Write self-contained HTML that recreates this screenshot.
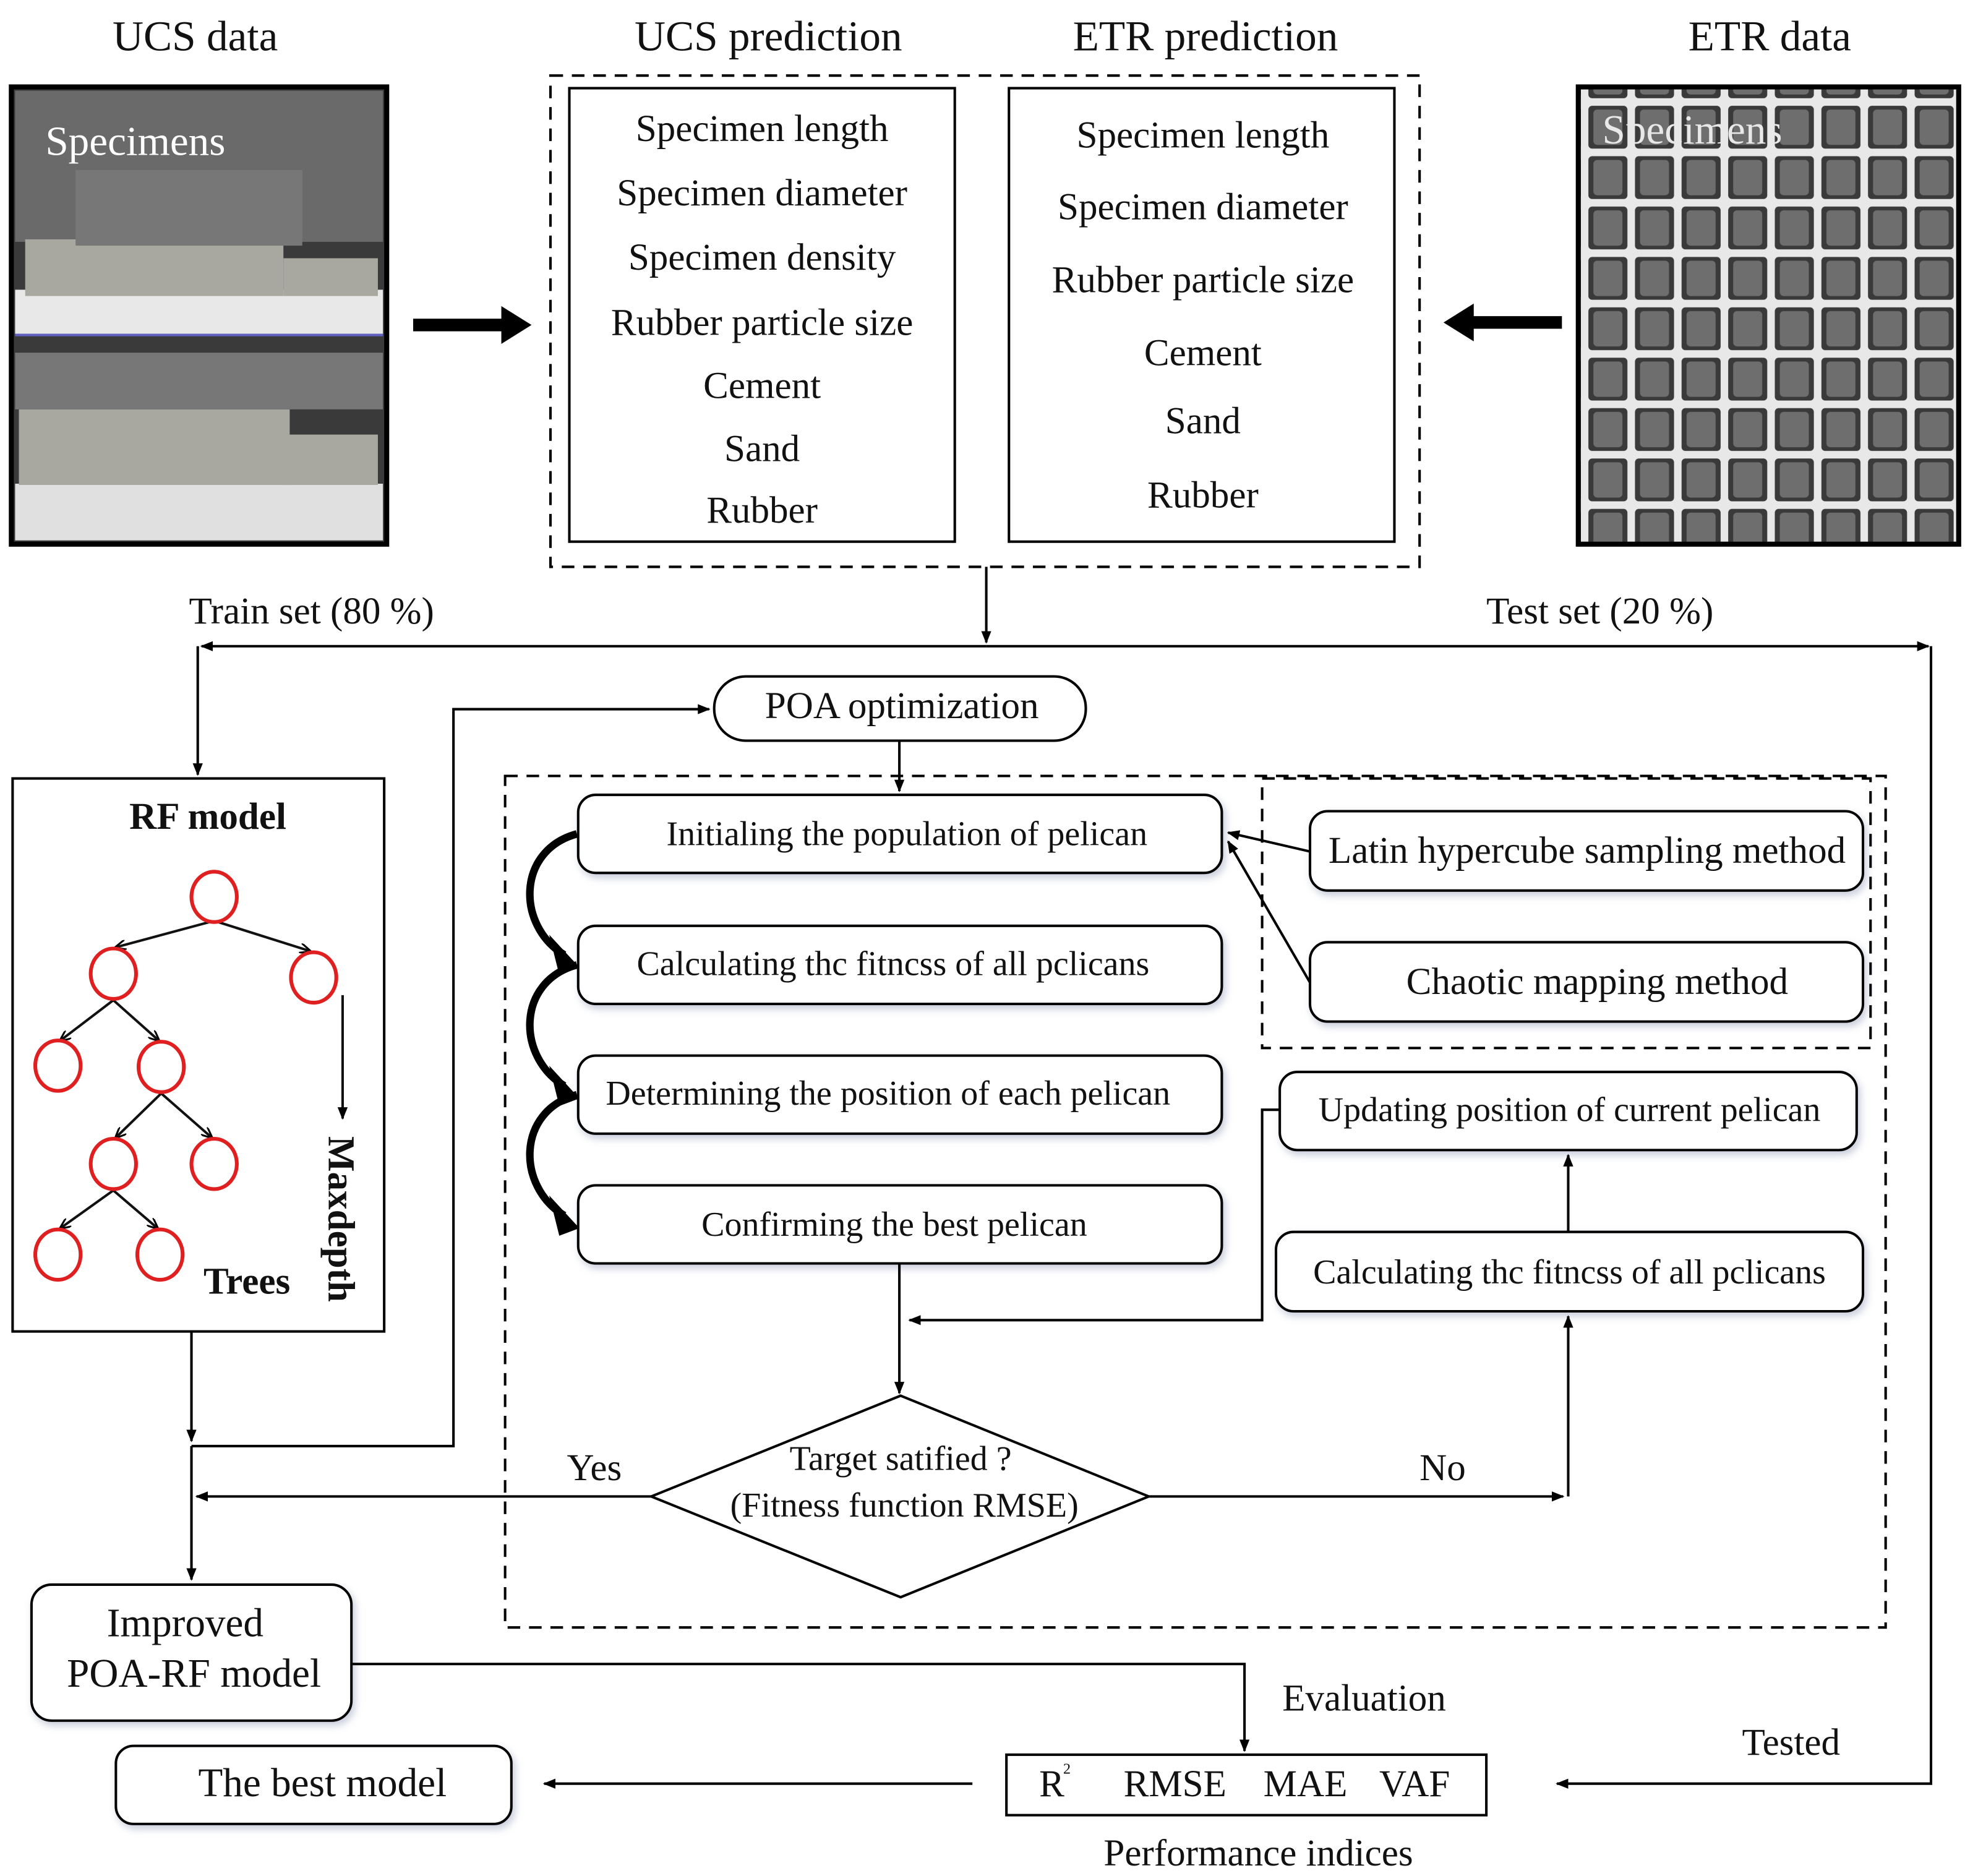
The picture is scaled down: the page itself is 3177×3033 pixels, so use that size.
<!DOCTYPE html>
<html><head><meta charset="utf-8"><style>
html,body{margin:0;padding:0;background:#fff;}
svg{display:block;}
text{font-family:"Liberation Serif",serif;fill:#111;}
</style></head><body>
<svg width="3177" height="3033" viewBox="0 0 1560 1489.3" preserveAspectRatio="none" xmlns="http://www.w3.org/2000/svg">
<defs>
<marker id="a" markerWidth="10" markerHeight="8" refX="9" refY="4" orient="auto" markerUnits="userSpaceOnUse"><path d="M0,0 L10,4 L0,8 z" fill="#000"/></marker>
<marker id="s" markerWidth="9" markerHeight="8" refX="8" refY="4" orient="auto" markerUnits="userSpaceOnUse"><path d="M0,0 L9,4 L0,8" fill="none" stroke="#000" stroke-width="1.5"/></marker>
<filter id="sh" x="-5%" y="-20%" width="110%" height="150%"><feDropShadow dx="2" dy="3" stdDeviation="3" flood-color="#8890b0" flood-opacity="0.45"/></filter>
<pattern id="cyl" width="37" height="40" patternUnits="userSpaceOnUse"><rect width="37" height="40" fill="#e8e8e8"/><rect x="3" y="4" width="31" height="34" rx="3" fill="#3a3a3a"/><rect x="7" y="7" width="23" height="28" rx="3" fill="#6e6e6e"/></pattern>
</defs>

<g font-size="34" text-anchor="middle">
<text x="155" y="40">UCS data</text>
<text x="610" y="40">UCS prediction</text>
<text x="957" y="40">ETR prediction</text>
<text x="1405" y="40">ETR data</text>
</g>

<!-- left photo -->
<rect x="9" y="69" width="298" height="363" fill="#3a3a3a" stroke="#000" stroke-width="4"/>
<rect x="12" y="72" width="292" height="120" fill="#6a6a6a"/>
<rect x="12" y="230" width="292" height="35" fill="#e8e8e8"/>
<rect x="12" y="384" width="292" height="45" fill="#e0e0e0"/>
<g fill="#a8a8a0">
<rect x="20" y="190" width="205" height="45"/>
<rect x="225" y="205" width="75" height="30"/>
<rect x="15" y="325" width="215" height="60"/>
<rect x="225" y="345" width="75" height="40"/>
</g>
<rect x="60" y="135" width="180" height="60" fill="#777"/>
<rect x="12" y="280" width="292" height="45" fill="#777"/>
<line x1="12" y1="266" x2="304" y2="266" stroke="#6060c0" stroke-width="2"/>
<text x="36" y="123" font-size="33" style="fill:#fff">Specimens</text>

<!-- right photo -->
<rect x="1253" y="69" width="302" height="363" fill="url(#cyl)" stroke="#000" stroke-width="4"/>
<text x="1272" y="114" font-size="33" style="fill:#e8e8e8">Specimens</text>

<!-- thick arrows -->
<polygon points="328,253 398,253 398,243 422,258 398,273 398,263 328,263" fill="#000"/>
<polygon points="1240,251 1170,251 1170,241 1146,256 1170,271 1170,261 1240,261" fill="#000"/>

<rect x="437" y="60" width="690" height="390" fill="none" stroke="#000" stroke-width="2" stroke-dasharray="10,7"/>
<rect x="452" y="70" width="306" height="360" fill="#fff" stroke="#000" stroke-width="2"/>
<rect x="801" y="70" width="306" height="360" fill="#fff" stroke="#000" stroke-width="2"/>
<g font-size="30" text-anchor="middle">
<text x="605" y="112">Specimen length</text>
<text x="605" y="163">Specimen diameter</text>
<text x="605" y="214">Specimen density</text>
<text x="605" y="266">Rubber particle size</text>
<text x="605" y="316">Cement</text>
<text x="605" y="366">Sand</text>
<text x="605" y="415">Rubber</text>
<text x="955" y="117">Specimen length</text>
<text x="955" y="174">Specimen diameter</text>
<text x="955" y="232">Rubber particle size</text>
<text x="955" y="290">Cement</text>
<text x="955" y="344">Sand</text>
<text x="955" y="403">Rubber</text>
</g>

<g stroke="#000" stroke-width="2" fill="none">
<line x1="783" y1="450" x2="783" y2="510" marker-end="url(#a)"/>
<line x1="783" y1="513" x2="160" y2="513" marker-end="url(#a)"/>
<line x1="783" y1="513" x2="1531" y2="513" marker-end="url(#a)"/>
<polyline points="1533,513 1533,1416 1236,1416" marker-end="url(#a)"/>
<line x1="157" y1="513" x2="157" y2="615" marker-end="url(#a)"/>
</g>
<g font-size="30">
<text x="150" y="495">Train set (80  %)</text>
<text x="1180" y="495">Test set (20  %)</text>
<text x="1383" y="1393">Tested</text>
</g>

<rect x="10" y="618" width="295" height="439" fill="#fff" stroke="#000" stroke-width="2"/>
<text x="165" y="658" font-size="30" font-weight="bold" text-anchor="middle">RF model</text>
<g stroke="#111" stroke-width="2" fill="none">
<line x1="170" y1="731" x2="92" y2="752" marker-end="url(#s)"/>
<line x1="170" y1="731" x2="246" y2="755" marker-end="url(#s)"/>
<line x1="90" y1="794" x2="48" y2="826" marker-end="url(#s)"/>
<line x1="90" y1="794" x2="126" y2="826" marker-end="url(#s)"/>
<line x1="128" y1="868" x2="92" y2="903" marker-end="url(#s)"/>
<line x1="128" y1="868" x2="168" y2="903" marker-end="url(#s)"/>
<line x1="90" y1="945" x2="48" y2="975" marker-end="url(#s)"/>
<line x1="90" y1="945" x2="125" y2="975" marker-end="url(#s)"/>
<line x1="272" y1="790" x2="272" y2="888" marker-end="url(#a)"/>
</g>
<g stroke="#e02020" stroke-width="3" fill="#fff">
<ellipse cx="170" cy="712" rx="18" ry="20"/>
<ellipse cx="90" cy="773" rx="18" ry="20"/>
<ellipse cx="249" cy="776" rx="18" ry="20"/>
<ellipse cx="46" cy="846" rx="18" ry="20"/>
<ellipse cx="128" cy="847" rx="18" ry="20"/>
<ellipse cx="90" cy="924" rx="18" ry="20"/>
<ellipse cx="170" cy="924" rx="18" ry="20"/>
<ellipse cx="46" cy="996" rx="18" ry="20"/>
<ellipse cx="127" cy="996" rx="18" ry="20"/>
</g>
<text x="196" y="1027" font-size="30" font-weight="bold" text-anchor="middle">Trees</text>
<text transform="translate(261,902) rotate(90)" font-size="30" font-weight="bold">Maxdepth</text>

<g stroke="#000" stroke-width="2" fill="none">
<line x1="152" y1="1057" x2="152" y2="1144" marker-end="url(#a)"/>
<polyline points="152,1148 360,1148 360,563 563,563" marker-end="url(#a)"/>
<line x1="152" y1="1148" x2="152" y2="1254" marker-end="url(#a)"/>
<line x1="714" y1="588" x2="714" y2="628" marker-end="url(#a)"/>
</g>

<rect x="567" y="537" width="295" height="51" rx="25" fill="#fff" stroke="#000" stroke-width="2"/>
<text x="716" y="570" font-size="30" text-anchor="middle">POA optimization</text>

<rect x="401" y="616" width="1096" height="676" fill="none" stroke="#000" stroke-width="2" stroke-dasharray="10,7"/>
<rect x="1002" y="618" width="483" height="214" fill="none" stroke="#000" stroke-width="2" stroke-dasharray="10,7"/>

<g fill="#fff" stroke="#000" stroke-width="2" filter="url(#sh)">
<rect x="459" y="631" width="511" height="62" rx="14"/>
<rect x="459" y="735" width="511" height="62" rx="14"/>
<rect x="459" y="838" width="511" height="62" rx="14"/>
<rect x="459" y="941" width="511" height="62" rx="14"/>
<rect x="1040" y="644" width="439" height="63" rx="14"/>
<rect x="1040" y="748" width="439" height="63" rx="14"/>
<rect x="1016" y="851" width="458" height="62" rx="14"/>
<rect x="1013" y="978" width="466" height="63" rx="14"/>
<rect x="25" y="1258" width="254" height="108" rx="16"/>
<rect x="92" y="1386" width="314" height="62" rx="14"/>
</g>
<g font-size="27.5" text-anchor="middle">
<text x="720" y="671">Initialing the population of pelican</text>
<text x="709" y="774">Calculating thc fitncss of all pclicans</text>
<text x="705" y="877">Determining the position of each pelican</text>
<text x="710" y="981">Confirming the best pelican</text>
<text x="1260" y="685" font-size="30">Latin hypercube sampling method</text>
<text x="1268" y="789" font-size="30">Chaotic mapping method</text>
<text x="1246" y="890">Updating position of current pelican</text>
<text x="1246" y="1019">Calculating thc fitncss of all pclicans</text>
</g>

<g fill="none" stroke="#000" stroke-width="6">
<path d="M458,662 C410,675 410,735 448,758"/>
<path d="M458,766 C410,779 410,839 448,862"/>
<path d="M458,869 C410,882 410,942 448,965"/>
</g>
<g fill="#000">
<path d="M436,742 L460,768 L444,774 z"/>
<path d="M436,846 L460,872 L444,878 z"/>
<path d="M436,949 L460,975 L444,981 z"/>
</g>

<g stroke="#000" stroke-width="2" fill="none">
<line x1="1040" y1="676" x2="975" y2="661" marker-end="url(#a)"/>
<line x1="1040" y1="780" x2="975" y2="668" marker-end="url(#a)"/>
<polyline points="1016,881 1002,881 1002,1048 722,1048" marker-end="url(#a)"/>
<line x1="714" y1="1003" x2="714" y2="1106" marker-end="url(#a)"/>
<line x1="517" y1="1188" x2="156" y2="1188" marker-end="url(#a)"/>
<line x1="912" y1="1188" x2="1241" y2="1188" marker-end="url(#a)"/>
<line x1="1245" y1="1188" x2="1245" y2="1045" marker-end="url(#a)"/>
<line x1="1245" y1="978" x2="1245" y2="917" marker-end="url(#a)"/>
<polyline points="279,1321 988,1321 988,1390" marker-end="url(#a)"/>
<line x1="772" y1="1416" x2="432" y2="1416" marker-end="url(#a)"/>
</g>

<polygon points="715,1108 912,1188 715,1268 517,1188" fill="#fff" stroke="#000" stroke-width="2"/>
<g font-size="27.5" text-anchor="middle">
<text x="715" y="1167">Target satified ?</text>
<text x="718" y="1204">(Fitness function RMSE)</text>
</g>
<g font-size="30">
<text x="450" y="1175">Yes</text>
<text x="1127" y="1175">No</text>
<text x="1018" y="1358">Evaluation</text>
</g>

<g font-size="32" text-anchor="middle">
<text x="147" y="1299">Improved</text>
<text x="154" y="1339">POA-RF model</text>
<text x="256" y="1426">The best model</text>
</g>
<rect x="799" y="1393" width="381" height="48" fill="#fff" stroke="#000" stroke-width="2"/>
<g font-size="30">
<text x="825" y="1426">R</text><text x="844" y="1408" font-size="12">2</text>
<text x="892" y="1426">RMSE</text>
<text x="1003" y="1426">MAE</text>
<text x="1095" y="1426">VAF</text>
<text x="999" y="1481" text-anchor="middle">Performance indices</text>
</g>
</svg>
</body></html>
